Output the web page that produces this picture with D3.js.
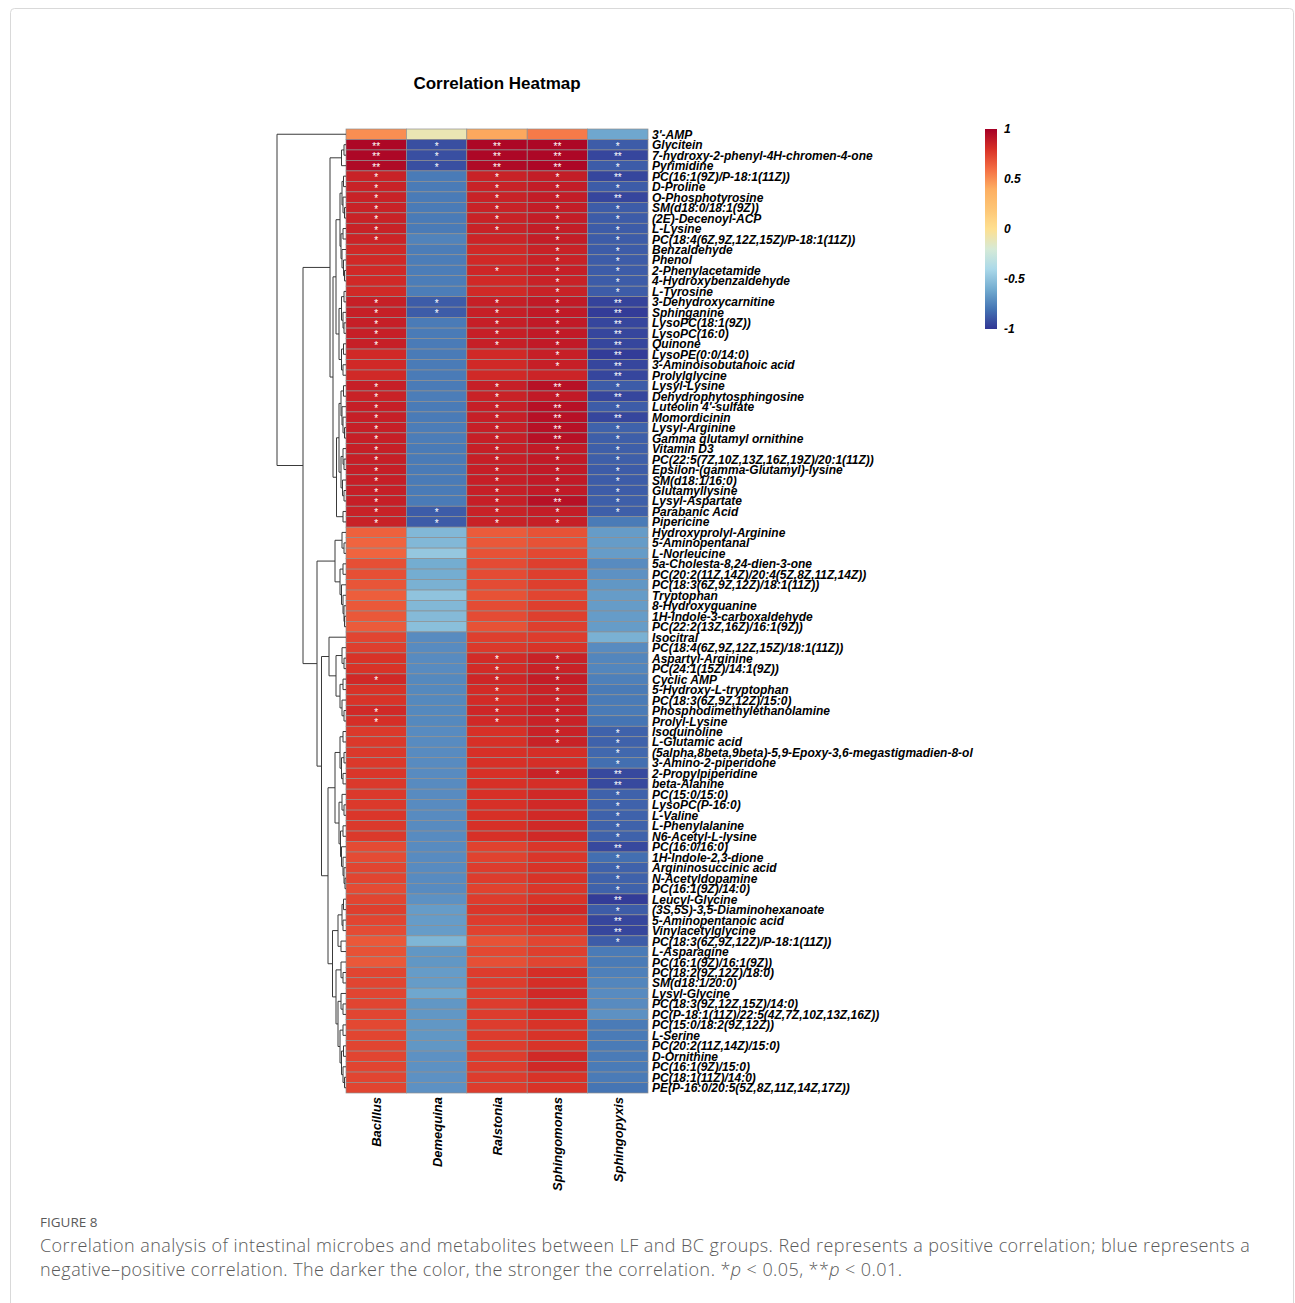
<!DOCTYPE html>
<html>
<head>
<meta charset="utf-8">
<script src="https://cdn.jsdelivr.net/npm/d3@7"></script>
<style>
  body { margin: 0; background: #fff; }
  text { font-family: "Liberation Sans", Arial, Helvetica, sans-serif; }
</style>
</head>
<body>
<div id="chart"></div>
<script>
// metabolites, in heatmap row order
const rowNames = [
  "3'-AMP", "Glycitein", "7-hydroxy-2-phenyl-4H-chromen-4-one", "Pyrimidine",
  "PC(16:1(9Z)/P-18:1(11Z))", "D-Proline", "O-Phosphotyrosine", "SM(d18:0/18:1(9Z))",
  "(2E)-Decenoyl-ACP", "L-Lysine", "PC(18:4(6Z,9Z,12Z,15Z)/P-18:1(11Z))", "Benzaldehyde",
  "Phenol", "2-Phenylacetamide", "4-Hydroxybenzaldehyde", "L-Tyrosine",
  "3-Dehydroxycarnitine", "Sphinganine", "LysoPC(18:1(9Z))", "LysoPC(16:0)",
  "Quinone", "LysoPE(0:0/14:0)", "3-Aminoisobutanoic acid", "Prolylglycine",
  "Lysyl-Lysine", "Dehydrophytosphingosine", "Luteolin 4'-sulfate", "Momordicinin",
  "Lysyl-Arginine", "Gamma glutamyl ornithine", "Vitamin D3", "PC(22:5(7Z,10Z,13Z,16Z,19Z)/20:1(11Z))",
  "Epsilon-(gamma-Glutamyl)-lysine", "SM(d18:1/16:0)", "Glutamyllysine", "Lysyl-Aspartate",
  "Parabanic Acid", "Pipericine", "Hydroxyprolyl-Arginine", "5-Aminopentanal",
  "L-Norleucine", "5a-Cholesta-8,24-dien-3-one", "PC(20:2(11Z,14Z)/20:4(5Z,8Z,11Z,14Z))", "PC(18:3(6Z,9Z,12Z)/18:1(11Z))",
  "Tryptophan", "8-Hydroxyguanine", "1H-Indole-3-carboxaldehyde", "PC(22:2(13Z,16Z)/16:1(9Z))",
  "Isocitral", "PC(18:4(6Z,9Z,12Z,15Z)/18:1(11Z))", "Aspartyl-Arginine", "PC(24:1(15Z)/14:1(9Z))",
  "Cyclic AMP", "5-Hydroxy-L-tryptophan", "PC(18:3(6Z,9Z,12Z)/15:0)", "Phosphodimethylethanolamine",
  "Prolyl-Lysine", "Isoquinoline", "L-Glutamic acid", "(5alpha,8beta,9beta)-5,9-Epoxy-3,6-megastigmadien-8-ol",
  "3-Amino-2-piperidone", "2-Propylpiperidine", "beta-Alanine", "PC(15:0/15:0)",
  "LysoPC(P-16:0)", "L-Valine", "L-Phenylalanine", "N6-Acetyl-L-lysine",
  "PC(16:0/16:0)", "1H-Indole-2,3-dione", "Argininosuccinic acid", "N-Acetyldopamine",
  "PC(16:1(9Z)/14:0)", "Leucyl-Glycine", "(3S,5S)-3,5-Diaminohexanoate", "5-Aminopentanoic acid",
  "Vinylacetylglycine", "PC(18:3(6Z,9Z,12Z)/P-18:1(11Z))", "L-Asparagine", "PC(16:1(9Z)/16:1(9Z))",
  "PC(18:2(9Z,12Z)/18:0)", "SM(d18:1/20:0)", "Lysyl-Glycine", "PC(18:3(9Z,12Z,15Z)/14:0)",
  "PC(P-18:1(11Z)/22:5(4Z,7Z,10Z,13Z,16Z))", "PC(15:0/18:2(9Z,12Z))", "L-Serine", "PC(20:2(11Z,14Z)/15:0)",
  "D-Ornithine", "PC(16:1(9Z)/15:0)", "PC(18:1(11Z)/14:0)", "PE(P-16:0/20:5(5Z,8Z,11Z,14Z,17Z))"
];

// microbes (columns)
const colNames = ["Bacillus", "Demequina", "Ralstonia", "Sphingomonas", "Sphingopyxis"];

// correlation per genus, same order as rowNames
const bacillus = [
  0.50, 0.97, 0.97, 0.96, 0.86, 0.86, 0.86, 0.86, 0.86, 0.86, 0.85, 0.83,
  0.83, 0.83, 0.83, 0.83, 0.87, 0.87, 0.87, 0.87, 0.87, 0.83, 0.83, 0.83,
  0.87, 0.86, 0.87, 0.87, 0.87, 0.87, 0.87, 0.87, 0.87, 0.87, 0.87, 0.87,
  0.86, 0.86, 0.64, 0.63, 0.63, 0.70, 0.70, 0.68, 0.65, 0.67, 0.67, 0.66,
  0.73, 0.75, 0.79, 0.79, 0.83, 0.79, 0.79, 0.83, 0.81, 0.77, 0.77, 0.77,
  0.77, 0.78, 0.77, 0.77, 0.77, 0.78, 0.77, 0.77, 0.71, 0.71, 0.73, 0.73,
  0.71, 0.73, 0.75, 0.73, 0.71, 0.67, 0.69, 0.67, 0.73, 0.73, 0.73, 0.73,
  0.73, 0.72, 0.73, 0.73, 0.73, 0.73, 0.73, 0.73
];
const demequina = [
  -0.10, -0.92, -0.92, -0.92, -0.78, -0.78, -0.78, -0.78, -0.78, -0.78, -0.75, -0.77,
  -0.77, -0.77, -0.77, -0.77, -0.88, -0.88, -0.78, -0.78, -0.78, -0.78, -0.78, -0.78,
  -0.78, -0.77, -0.78, -0.78, -0.77, -0.77, -0.78, -0.78, -0.78, -0.78, -0.78, -0.78,
  -0.88, -0.88, -0.55, -0.55, -0.48, -0.60, -0.60, -0.58, -0.50, -0.55, -0.54, -0.52,
  -0.72, -0.72, -0.72, -0.72, -0.73, -0.73, -0.73, -0.73, -0.73, -0.72, -0.72, -0.72,
  -0.72, -0.72, -0.72, -0.72, -0.72, -0.72, -0.72, -0.72, -0.72, -0.72, -0.72, -0.72,
  -0.72, -0.70, -0.66, -0.66, -0.66, -0.56, -0.68, -0.68, -0.66, -0.66, -0.62, -0.68,
  -0.68, -0.68, -0.68, -0.68, -0.70, -0.70, -0.70, -0.70
];
const ralstonia = [
  0.42, 0.97, 0.97, 0.96, 0.86, 0.86, 0.86, 0.86, 0.86, 0.86, 0.85, 0.83,
  0.83, 0.84, 0.83, 0.83, 0.87, 0.87, 0.87, 0.87, 0.87, 0.83, 0.83, 0.83,
  0.87, 0.86, 0.87, 0.87, 0.87, 0.87, 0.87, 0.87, 0.87, 0.87, 0.87, 0.87,
  0.86, 0.86, 0.66, 0.67, 0.69, 0.71, 0.71, 0.71, 0.69, 0.71, 0.71, 0.69,
  0.75, 0.77, 0.82, 0.82, 0.84, 0.82, 0.82, 0.84, 0.83, 0.80, 0.80, 0.80,
  0.80, 0.80, 0.80, 0.80, 0.80, 0.80, 0.80, 0.80, 0.74, 0.74, 0.76, 0.76,
  0.74, 0.76, 0.78, 0.76, 0.74, 0.69, 0.72, 0.70, 0.76, 0.76, 0.76, 0.76,
  0.76, 0.76, 0.76, 0.76, 0.76, 0.76, 0.76, 0.76
];
const sphingomonas = [
  0.56, 0.97, 0.97, 0.97, 0.88, 0.88, 0.88, 0.88, 0.88, 0.88, 0.88, 0.86,
  0.86, 0.87, 0.86, 0.86, 0.89, 0.89, 0.89, 0.89, 0.89, 0.87, 0.87, 0.85,
  0.93, 0.89, 0.93, 0.93, 0.93, 0.93, 0.89, 0.89, 0.89, 0.89, 0.89, 0.93,
  0.88, 0.87, 0.69, 0.69, 0.72, 0.75, 0.75, 0.75, 0.73, 0.75, 0.75, 0.75,
  0.76, 0.79, 0.86, 0.86, 0.88, 0.86, 0.86, 0.87, 0.86, 0.86, 0.86, 0.81,
  0.81, 0.86, 0.81, 0.83, 0.83, 0.83, 0.83, 0.83, 0.78, 0.78, 0.79, 0.79,
  0.78, 0.79, 0.83, 0.79, 0.77, 0.73, 0.75, 0.73, 0.81, 0.81, 0.83, 0.81,
  0.81, 0.79, 0.79, 0.79, 0.83, 0.83, 0.79, 0.79
];
const sphingopyxis = [
  -0.62, -0.88, -0.95, -0.88, -0.95, -0.88, -0.95, -0.88, -0.88, -0.88, -0.88, -0.88,
  -0.88, -0.88, -0.88, -0.88, -0.96, -0.98, -0.95, -0.95, -0.95, -0.98, -0.95, -0.95,
  -0.88, -0.95, -0.88, -0.95, -0.86, -0.87, -0.87, -0.87, -0.88, -0.88, -0.88, -0.87,
  -0.87, -0.78, -0.66, -0.66, -0.66, -0.72, -0.70, -0.68, -0.66, -0.66, -0.66, -0.66,
  -0.58, -0.72, -0.74, -0.74, -0.76, -0.78, -0.78, -0.78, -0.80, -0.86, -0.86, -0.84,
  -0.82, -0.94, -0.94, -0.86, -0.86, -0.86, -0.86, -0.86, -0.94, -0.82, -0.86, -0.86,
  -0.86, -0.98, -0.88, -0.95, -0.95, -0.88, -0.78, -0.78, -0.76, -0.74, -0.72, -0.72,
  -0.70, -0.78, -0.78, -0.78, -0.78, -0.78, -0.78, -0.80
];

// significance per row, one digit per genus: 0 none, 1 = *, 2 = **
const signif = [
  "00000", "21221", "21222", "21221", "10112", "10111", "10112", "10111",
  "10111", "10111", "10011", "00011", "00011", "00111", "00011", "00011",
  "11112", "11112", "10112", "10112", "10112", "00012", "00012", "00002",
  "10121", "10112", "10121", "10122", "10121", "10121", "10111", "10111",
  "10111", "10111", "10111", "10121", "11111", "11110", "00000", "00000",
  "00000", "00000", "00000", "00000", "00000", "00000", "00000", "00000",
  "00000", "00000", "00110", "00110", "10110", "00110", "00110", "10110",
  "10110", "00011", "00011", "00001", "00001", "00012", "00002", "00001",
  "00001", "00001", "00001", "00001", "00002", "00001", "00001", "00001",
  "00001", "00002", "00001", "00002", "00002", "00001", "00000", "00000",
  "00000", "00000", "00000", "00000", "00000", "00000", "00000", "00000",
  "00000", "00000", "00000", "00000"
];

// row dendrogram: [height, left, right], leaves are row indices
const rowTree = [69,
  0,
  [43,
    [16,
      [4.5, [2, 1, 2], 3],
      [13,
        [10,
          [6,
            [4, [2.5, 4, 5], [3, 6, [1.5, 7, 8]]],
            [5, [3, 9, 10], [4, 11, [2.5, 12, [1.5, 13, 14]]]]],
          [7,
            [4.5, [2, 15, 16], [3, 17, [2, 18, 19]]],
            [4.5, [2.5, 20, 21], [3, 22, 23]]]],
        [9.5,
          [7,
            [5, [2.5, 24, 25], [4, 26, [3, 27, [1.5, 28, 29]]]],
            [5, [3, 30, [2, 31, 32]], [3.5, 33, [2, 34, 35]]]],
          [3, 36, 37]]]],
    [29,
      [11,
        [4, 38, [2, 39, 40]],
        [6, [3, 41, 42], [4.5, 43, [3, 44, [2, 45, [1.5, 46, 47]]]]]],
      [24.5,
        [17,
          48,
          [10,
            [4, 49, [2, 50, 51]],
            [6, [3, 52, 53], [4, 54, [2, 55, 56]]]]],
        [18,
          [11,
            [6, [3, 57, 58], [4.5, [2, 59, 60], [3, 61, 62]]],
            [7,
              [4, 63, [2, 64, 65]],
              [5.5, [3, 66, 67], [4.5, 68, [3, 69, [2, 70, [1, 71, 72]]]]]]],
          [13.5,
            [8, [4, [2.5, 73, 74], [3, 75, 76]], [5, 77, 78]],
            [10,
              [5, 79, [3, 80, 81]],
              [8,
                [5, 82, [3, 83, 84]],
                [6, [3, 85, 86], [4.5, [2.5, 87, 88], [3, 89, [1.5, 90, 91]]]]]]]]]]]
];

const legendTicks = [1, 0.5, 0, -0.5, -1];

// palette anchors (blue -> yellow -> red)
const paletteStops = [-1, -0.8, -0.6, -0.4, -0.2, 0, 0.2, 0.4, 0.6, 0.8, 1];
const paletteColors = ["#313695", "#4575b4", "#74add1", "#abd9e9", "#d6ead6", "#fee090",
                       "#fdc575", "#fdae61", "#f46d43", "#d73027", "#a50026"];

const width = 1295;
const height = 1303;

const heatLeft = 346;
const heatRight = 648;
const heatTop = 129;
const heatBottom = 1093;

const svg = d3.select('#chart').append('svg')
  .attr('width', width)
  .attr('height', height);

svg.append('rect').attr('width', width).attr('height', height).attr('fill', '#fff');

// figure frame
svg.append('rect')
  .attr('x', 10.5).attr('y', 8.5)
  .attr('width', 1283).attr('height', 1320)
  .attr('rx', 4)
  .attr('fill', 'none')
  .attr('stroke', '#d9d9d9');

const series = [bacillus, demequina, ralstonia, sphingomonas, sphingopyxis];

const x = d3.scaleBand().domain(colNames).range([heatLeft, heatRight]);
const y = d3.scaleBand().domain(d3.range(rowNames.length)).range([heatTop, heatBottom]);

const color = d3.scaleLinear()
  .domain(paletteStops)
  .range(paletteColors)
  .interpolate(d3.interpolateRgb)
  .clamp(true);

// flatten to cells
const cells = [];
rowNames.forEach((name, i) => {
  colNames.forEach((c, j) => {
    cells.push({ row: i, col: c, value: series[j][i], sig: +signif[i][j] });
  });
});

const chart = svg.append('g');

chart.selectAll('.cell')
  .data(cells)
  .enter().append('rect')
  .attr('class', 'cell')
  .attr('x', d => x(d.col))
  .attr('y', d => y(d.row))
  .attr('width', x.bandwidth())
  .attr('height', y.bandwidth())
  .attr('fill', d => color(d.value))
  .attr('stroke', '#8f8f8f')
  .attr('stroke-width', 0.7);

// stars
chart.selectAll('.star')
  .data(cells.filter(d => d.sig > 0))
  .enter().append('text')
  .attr('class', 'star')
  .attr('x', d => x(d.col) + x.bandwidth() / 2)
  .attr('y', d => y(d.row) + y.bandwidth() / 2 + 5)
  .attr('text-anchor', 'middle')
  .attr('fill', '#fff')
  .style('font-size', '10px')
  .text(d => d.sig === 2 ? '**' : '*');

// row labels
chart.selectAll('.rowlab')
  .data(rowNames)
  .enter().append('text')
  .attr('class', 'rowlab')
  .attr('x', heatRight + 4)
  .attr('y', (d, i) => y(i) + y.bandwidth() / 2 + 4.5)
  .style('font-size', '12px')
  .style('font-weight', 'bold')
  .style('font-style', 'italic')
  .text(d => d);

// column labels
chart.selectAll('.collab')
  .data(colNames)
  .enter().append('text')
  .attr('class', 'collab')
  .attr('transform', d => `translate(${x(d) + x.bandwidth() / 2 + 5}, ${heatBottom + 4}) rotate(-90)`)
  .attr('text-anchor', 'end')
  .style('font-size', '13px')
  .style('font-weight', 'bold')
  .style('font-style', 'italic')
  .text(d => d);

// dendrogram
const xD = d3.scaleLinear().domain([0, rowTree[0]]).range([heatLeft, 277]);
const dendro = svg.append('g')
  .attr('fill', 'none')
  .attr('stroke', '#3a3a3a')
  .attr('stroke-width', 1);

function drawNode(node) {
  if (typeof node === 'number') {
    return { y: y(node) + y.bandwidth() / 2, h: 0 };
  }
  const [h, a, b] = node;
  const left = drawNode(a);
  const right = drawNode(b);
  const xn = xD(h);
  dendro.append('path')
    .attr('d', `M${xD(left.h)},${left.y}H${xn}V${right.y}H${xD(right.h)}`);
  return { y: (left.y + right.y) / 2, h: h };
}
drawNode(rowTree);

// title
svg.append('text')
  .attr('x', 497)
  .attr('y', 89)
  .attr('text-anchor', 'middle')
  .style('font-size', '17px')
  .style('font-weight', 'bold')
  .text('Correlation Heatmap');

// legend
const legTop = 129;
const legBottom = 329;
const legX = 985;
const legW = 12;
const yLeg = d3.scaleLinear().domain([1, -1]).range([legTop, legBottom]);

const defs = svg.append('defs');
const grad = defs.append('linearGradient')
  .attr('id', 'leggrad')
  .attr('x1', 0).attr('y1', 0).attr('x2', 0).attr('y2', 1);
d3.range(0, 1.001, 0.05).forEach(t => {
  grad.append('stop')
    .attr('offset', t)
    .attr('stop-color', color(1 - 2 * t));
});

svg.append('rect')
  .attr('x', legX).attr('y', legTop)
  .attr('width', legW).attr('height', legBottom - legTop)
  .attr('fill', 'url(#leggrad)');

svg.selectAll('.legtick')
  .data(legendTicks)
  .enter().append('text')
  .attr('class', 'legtick')
  .attr('x', legX + legW + 7)
  .attr('y', d => yLeg(d) + 4)
  .style('font-size', '12px')
  .style('font-weight', 'bold')
  .style('font-style', 'italic')
  .text(d => d);

// caption
const cap = svg.append('g').attr('fill', '#5a5a5a');
cap.append('text')
  .attr('x', 40).attr('y', 1227)
  .style('font-size', '13.5px')
  .style('font-family', '"Open Sans", sans-serif')
  .text('FIGURE 8');
cap.append('text')
  .attr('x', 40).attr('y', 1252)
  .style('font-size', '18px')
  .style('font-weight', 300)
  .style('letter-spacing', '0.42px')
  .style('font-family', '"Open Sans", sans-serif')
  .text('Correlation analysis of intestinal microbes and metabolites between LF and BC groups. Red represents a positive correlation; blue represents a');
const line2 = cap.append('text')
  .attr('x', 40).attr('y', 1276)
  .style('font-size', '18px')
  .style('font-weight', 300)
  .style('letter-spacing', '0.42px')
  .style('font-family', '"Open Sans", sans-serif');
line2.append('tspan').text('negative\u2013positive correlation. The darker the color, the stronger the correlation. *');
line2.append('tspan').style('font-style', 'italic').text('p');
line2.append('tspan').text(' < 0.05, **');
line2.append('tspan').style('font-style', 'italic').text('p');
line2.append('tspan').text(' < 0.01.');
</script>
</body>
</html>
